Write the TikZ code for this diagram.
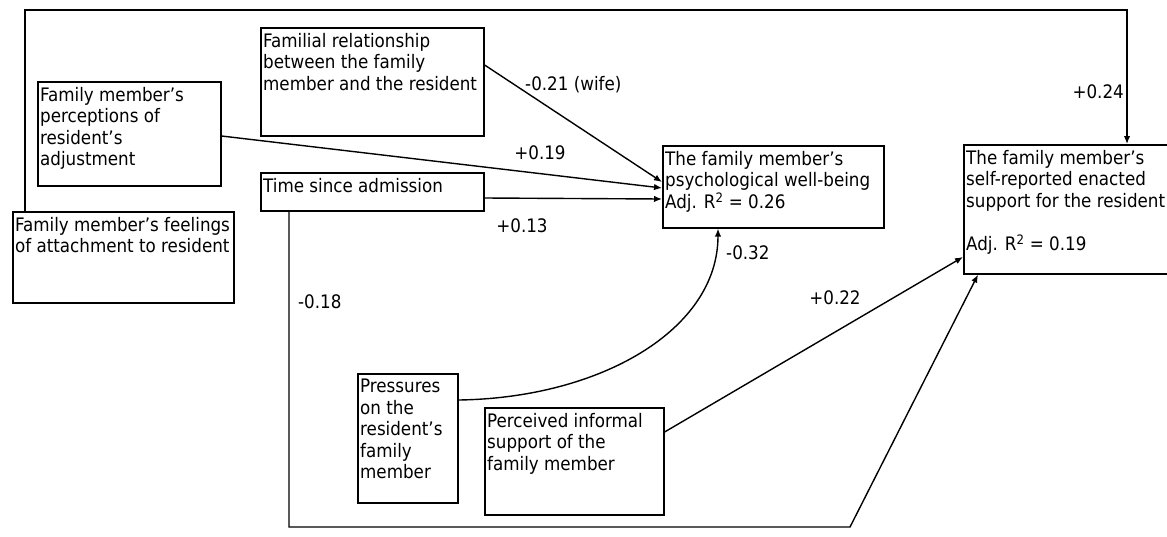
\documentclass[tikz,border=0pt]{standalone}
\usepackage{fontspec}
\setmainfont{DejaVu Sans Condensed}
\usetikzlibrary{arrows.meta}
\begin{document}
\begin{tikzpicture}[x=1pt,y=-1pt,
  every node/.style={font=\fontsize{18.6}{21.5}\selectfont},
  box/.style={draw, line width=1.6pt, anchor=north west, inner sep=0pt},
  btxt/.style={anchor=north west, align=left, inner xsep=3pt, inner ysep=6pt},
  conn/.style={line width=1.4pt},
  arr/.style={conn, -{Latex[length=8pt,width=6.5pt]}},
  coef/.style={inner sep=0pt}]
\useasboundingbox[fill=white] (0,0) rectangle (1167,536);

% boxes
\node[box, minimum width=223, minimum height=108,
  label={[btxt]north west:Familial relationship\\between the family\\member and the resident}] (fam) at (260,27) {};
\node[box, minimum width=183, minimum height=104,
  label={[btxt]north west:Family member’s\\perceptions of\\resident’s\\adjustment}] (perc) at (37,81) {};
\node[box, minimum width=223, minimum height=38,
  label={[btxt]north west:Time since admission}] (tim) at (260,172) {};
\node[box, minimum width=221, minimum height=91,
  label={[btxt]north west:Family member’s feelings\\of attachment to resident}] (feel) at (12,211) {};
\node[box, minimum width=221, minimum height=82,
  label={[btxt]north west:The family member’s\\psychological well-being\\Adj. R\textsuperscript{2} = 0.26}] (wb) at (662,145) {};
\node[box, minimum width=204, minimum height=129,
  label={[btxt]north west:The family member’s\\self-reported enacted\\support for the resident\\[21.5pt]Adj. R\textsuperscript{2} = 0.19}] (sup) at (963,144) {};
\node[box, minimum width=100, minimum height=129,
  label={[btxt]north west:Pressures\\on the\\resident’s\\family\\member}] (pres) at (357,373) {};
\node[box, minimum width=179, minimum height=107,
  label={[btxt]north west:Perceived informal\\support of the\\family member}] (inf) at (484,407) {};

% helper corners
\coordinate (c1) at (289,527);
\coordinate (c2) at (850,527);
\coordinate (c3) at (25,10);
\coordinate (c4) at (1127,10);

% connectors
\draw[arr] ([yshift=-38]fam.north east) -- ([yshift=-37]wb.north west);
\draw[arr] ([yshift=-55]perc.north east) -- ([yshift=-43]wb.north west);
\draw[arr] ([yshift=-26]tim.north east) -- ([yshift=-54]wb.north west);
\draw[arr] ([yshift=-27]pres.north east) .. controls (600,398) and (718,330) .. ([xshift=56]wb.south west);
\draw[arr] ([yshift=-25]inf.north east) -- ([yshift=-113]sup.north west);
\draw[arr] ([xshift=29]tim.south west) -- (c1) -- (c2) -- ([xshift=15]sup.south west);
\draw[arr] ([xshift=13]feel.north west) -- (c3) -- (c4) -- ([xshift=164]sup.north west);

% coefficients
\node[coef, anchor=west] (l1) at (525,85) {-0.21 (wife)};
\node[coef] (l2) at (540,153) {+0.19};
\node[coef] (l3) at (522,226) {+0.13};
\node[coef, anchor=west] (l4) at (726,253) {-0.32};
\node[coef] (l5) at (835,298) {+0.22};
\node[coef, anchor=west] (l6) at (298,302) {-0.18};
\node[coef, anchor=east] (l7) at (1124,92) {+0.24};
\end{tikzpicture}
\end{document}
